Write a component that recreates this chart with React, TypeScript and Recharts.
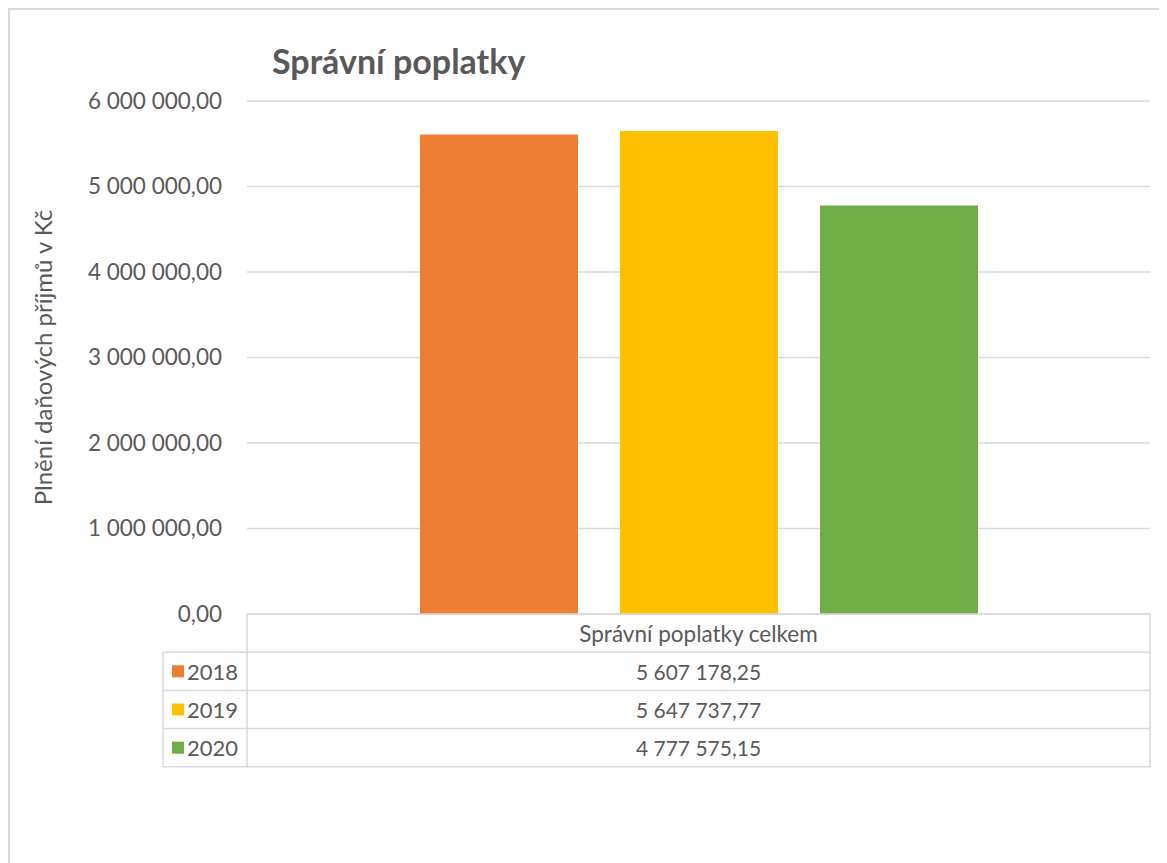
import React from 'react';
import { BarChart, Bar, XAxis, YAxis, CartesianGrid } from 'recharts';

const categories = ['Správní poplatky celkem'];
const years = ['2018', '2019', '2020'];
const values2018 = [5607178.25];
const values2019 = [5647737.77];
const values2020 = [4777575.15];
const seriesColors = ['#ED7D31', '#FFC000', '#70AD47'];
const yTicks = [0, 1000000, 2000000, 3000000, 4000000, 5000000, 6000000];
const title = 'Správní poplatky';
const yAxisLabel = 'Plnění daňových příjmů v Kč';

const seriesValues = [values2018, values2019, values2020];

const data = categories.map((c, i) => ({
  name: c,
  y2018: values2018[i],
  y2019: values2019[i],
  y2020: values2020[i],
}));

const fmt = (v: number, dec = 2) => {
  const fixed = v.toFixed(dec);
  const [intPart, decPart] = fixed.split('.');
  const grouped = intPart.replace(/\B(?=(\d{3})+(?!\d))/g, ' ');
  return decPart ? `${grouped},${decPart}` : grouped;
};

const FONT = 'Lato, "Open Sans", sans-serif';
const TEXT = '#595959';
const LINE = '#d9d9d9';

const W = 1159;
const H = 855;
// plot area in chart coordinates
const PL = 239;
const PT = 93;
const PR = 1142;
const PB = 606;
const YW = 150;

const rowH = 38.2;
const legendLeft = 155;

export default function App() {
  const keys = ['y2018', 'y2019', 'y2020'];
  return (
    <div
      style={{
        position: 'relative',
        width: W,
        height: H,
        borderTop: `2px solid ${LINE}`,
        borderLeft: `2px solid ${LINE}`,
        boxSizing: 'border-box',
        background: '#fff',
        fontFamily: FONT,
      }}
    >
      <div style={{ position: 'absolute', left: -2, top: -2 }}>
        <BarChart
          width={W}
          height={H}
          data={data}
          margin={{ top: PT, right: W - PR, bottom: H - PB, left: PL - YW }}
          barSize={158}
          barGap={42}
        >
          <CartesianGrid vertical={false} stroke={LINE} strokeWidth={1.5} />
          <XAxis dataKey="name" hide />
          <YAxis
            width={YW}
            domain={[0, 6000000]}
            ticks={yTicks}
            tickFormatter={(v: number) => fmt(v)}
            axisLine={false}
            tickLine={false}
            tickSize={0}
            tickMargin={25}
            tick={{ fill: TEXT, fontSize: 22.5, fontFamily: FONT }}
          />
          {keys.map((k, i) => (
            <Bar key={k} dataKey={k} fill={seriesColors[i]} isAnimationActive={false} />
          ))}
        </BarChart>
      </div>
      <svg
        width={W}
        height={H}
        style={{ position: 'absolute', left: -2, top: -2, pointerEvents: 'none' }}
      >
        <text x={264} y={66} fill={TEXT} fontSize={34} fontWeight="bold" fontFamily={FONT}>
          {title}
        </text>
        <text
          x={0}
          y={0}
          transform={`translate(${34}, ${(PT + PB) / 2}) rotate(-90)`}
          textAnchor="middle"
          dominantBaseline="central"
          fill={TEXT}
          fontSize={24}
          fontFamily={FONT}
        >
          {yAxisLabel}
        </text>
        {/* data table */}
        <g stroke={LINE} strokeWidth={1.5} fill="none">
          <line x1={PL} y1={PB} x2={PR} y2={PB} />
          {years.map((_, i) => (
            <line key={i} x1={legendLeft} y1={PB + rowH * (i + 1)} x2={PR} y2={PB + rowH * (i + 1)} />
          ))}
          <line x1={legendLeft} y1={PB + rowH * 4} x2={PR} y2={PB + rowH * 4} />
          <line x1={legendLeft} y1={PB + rowH} x2={legendLeft} y2={PB + rowH * 4} />
          <line x1={PL} y1={PB} x2={PL} y2={PB + rowH * 4} />
          <line x1={PR} y1={PB} x2={PR} y2={PB + rowH * 4} />
        </g>
        <text
          x={(PL + PR) / 2}
          y={PB + rowH / 2}
          textAnchor="middle"
          dominantBaseline="central"
          fill={TEXT}
          fontSize={22.5}
          fontFamily={FONT}
        >
          {categories[0]}
        </text>
        {years.map((yr, i) => {
          const cy = PB + rowH * (i + 1.5);
          return (
            <g key={yr}>
              <rect x={legendLeft + 9} y={cy - 6} width={12} height={12} fill={seriesColors[i]} />
              <text x={legendLeft + 24} y={cy} dominantBaseline="central" fill={TEXT} fontSize={22} fontFamily={FONT}>
                {yr}
              </text>
              <text
                x={(PL + PR) / 2}
                y={cy}
                textAnchor="middle"
                dominantBaseline="central"
                fill={TEXT}
                fontSize={21}
                fontFamily={FONT}
              >
                {fmt(seriesValues[i][0])}
              </text>
            </g>
          );
        })}
      </svg>
    </div>
  );
}
